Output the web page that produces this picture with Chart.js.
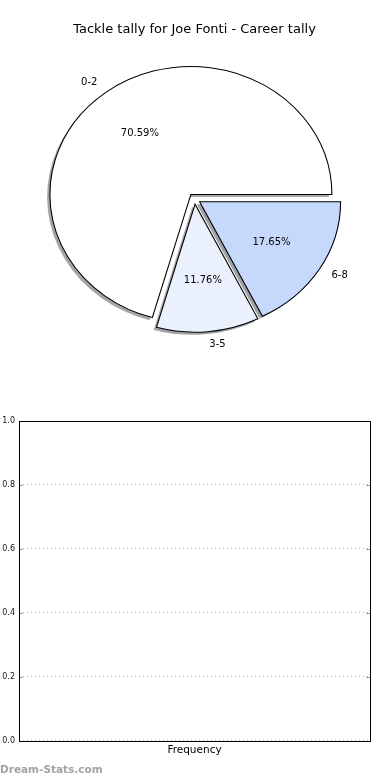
<!DOCTYPE html>
<html>
<head>
<meta charset="utf-8">
<script src="https://cdn.jsdelivr.net/npm/chart.js@4/dist/chart.umd.min.js"></script>
<style>
 html,body{margin:0;padding:0;background:#fff;}
 .box{position:relative;width:390px;}
 canvas{display:block;}
</style>
</head>
<body>
<div class="box" style="height:400px"><canvas id="pie"></canvas></div>
<div class="box" style="height:380px"><canvas id="bar"></canvas></div>
<script>
/* ===== data ===== */
const titleText = "Tackle tally for Joe Fonti - Career tally";
// drawn clockwise from 3 o'clock, so the order is reversed vs. the legend
const sliceLabels = ["6-8","3-5","0-2"];
const sliceCounts = [3, 2, 12];
const slicePct = ["17.65%","11.76%","70.59%"];
const sliceColors = ["#c6d9fd","#eaf1fd","#ffffff"];

const barCategories = ["Frequency"];
const barValues = [];
const yTicks = [0, 0.2, 0.4, 0.6, 0.8, 1.0];

const FONT = "'DejaVu Sans', sans-serif";
const EXPLODE = 6;        // px along the slice mid angle
const SQUASH = 128/141;   // pie is a bit flatter than round
const SHADOW = {x:-2.8, y:2.6};

/* ===== pie ===== */
function shade(hex){
 const n=parseInt(hex.slice(1),16);
 const r=(n>>16)&255, g=(n>>8)&255, b=n&255;
 return `rgba(${Math.round(r*0.3)},${Math.round(g*0.3)},${Math.round(b*0.3)},0.5)`;
}

function sliceTransform(ctx, arc, dx, dy){
 const mid=(arc.startAngle+arc.endAngle)/2;
 ctx.translate(arc.x+dx, arc.y+dy);
 ctx.scale(1, SQUASH);
 ctx.translate(-arc.x+Math.cos(mid)*EXPLODE, -arc.y+Math.sin(mid)*EXPLODE);
}

const piePlugin = {
 id:"piePlugin",
 beforeDatasetsDraw(chart){
  const ctx=chart.ctx;
  const arcs=chart.getDatasetMeta(0).data;
  // shadows first, under every slice
  arcs.forEach((arc,i)=>{
   ctx.save();
   sliceTransform(ctx, arc, SHADOW.x, SHADOW.y);
   ctx.beginPath();
   ctx.moveTo(arc.x, arc.y);
   ctx.arc(arc.x, arc.y, arc.outerRadius, arc.startAngle, arc.endAngle);
   ctx.closePath();
   ctx.fillStyle=shade(sliceColors[i]);
   ctx.fill();
   ctx.restore();
  });
  arcs.forEach(arc=>{
   ctx.save();
   sliceTransform(ctx, arc, 0, 0);
   arc.draw(ctx);
   ctx.restore();
  });
  return false;
 },
 afterDraw(chart){
  const ctx=chart.ctx;
  const arcs=chart.getDatasetMeta(0).data;
  ctx.save();
  ctx.font="10px "+FONT;
  ctx.fillStyle="#000";
  ctx.textBaseline="middle";
  arcs.forEach((arc,i)=>{
   const mid=(arc.startAngle+arc.endAngle)/2;
   const c=Math.cos(mid), s=Math.sin(mid);
   const r=arc.outerRadius;
   // label outside
   const lx=arc.x+c*(EXPLODE+1.1*r);
   const ly=arc.y+s*(EXPLODE+1.1*r)*SQUASH;
   ctx.textAlign=c>0?"left":"right";
   ctx.fillText(sliceLabels[i], lx, ly);
   // percent inside
   const px=arc.x+c*(EXPLODE+0.6*r);
   const py=arc.y+s*(EXPLODE+0.6*r)*SQUASH;
   ctx.textAlign="center";
   ctx.fillText(slicePct[i], px, py);
  });
  ctx.restore();
 }
};

new Chart(document.getElementById("pie"),{
 type:"pie",
 data:{
  labels:sliceLabels,
  datasets:[{
   data:sliceCounts,
   backgroundColor:sliceColors,
   borderColor:"#000",
   borderWidth:1.1,
   borderJoinStyle:"miter",
   radius:141
  }]
 },
 options:{
  responsive:true,
  maintainAspectRatio:false,
  animation:false,
  rotation:90,
  layout:{padding:{left:0,right:1,top:0,bottom:40}},
  plugins:{
   legend:{display:false},
   tooltip:{enabled:false},
   title:{
    display:true,
    text:titleText,
    color:"#000",
    font:{family:FONT,size:13,weight:"normal"},
    padding:{top:22,bottom:0}
   }
  }
 },
 plugins:[piePlugin]
});

/* ===== bar (empty) ===== */
const framePlugin = {
 id:"framePlugin",
 afterDraw(chart){
  const ctx=chart.ctx, a=chart.chartArea, y=chart.scales.y;
  ctx.save();
  // inward ticks on both sides
  ctx.strokeStyle="#999";
  ctx.lineWidth=1;
  yTicks.forEach(v=>{
   const p=Math.round(y.getPixelForValue(v))+0.5;
   ctx.beginPath();
   ctx.moveTo(a.left,p); ctx.lineTo(a.left+4,p);
   ctx.moveTo(a.right,p); ctx.lineTo(a.right-4,p);
   ctx.stroke();
  });
  ctx.strokeStyle="#000";
  ctx.strokeRect(Math.round(a.left)+0.5, Math.round(a.top)+0.5,
   Math.round(a.right-a.left), Math.round(a.bottom-a.top));
  // watermark
  ctx.font="bold 10.5px "+FONT;
  ctx.fillStyle="#a3a3a3";
  ctx.textAlign="left";
  ctx.textBaseline="middle";
  ctx.fillText("Dream-Stats.com", 0, chart.height-10);
  ctx.restore();
 }
};

new Chart(document.getElementById("bar"),{
 type:"bar",
 data:{
  labels:barCategories,
  datasets:[{data:barValues, backgroundColor:"#c6d9fd"}]
 },
 options:{
  responsive:true,
  maintainAspectRatio:false,
  animation:false,
  layout:{padding:{left:0,right:20,top:21,bottom:0}},
  plugins:{legend:{display:false},tooltip:{enabled:false}},
  scales:{
   x:{
    grid:{display:false,drawTicks:false,tickLength:0},
    border:{display:false},
    ticks:{color:"#000",font:{family:FONT,size:10.5},padding:3},
    afterFit(s){s.height=39.5;}
   },
   y:{
    min:0,max:1,
    afterBuildTicks(s){s.ticks=yTicks.map(v=>({value:v}));},
    ticks:{
     color:"#111",
     font:{family:FONT,size:8},
     padding:4,
     callback:v=>Number(v).toFixed(1)
    },
    grid:{color:"#b0b0b0",drawTicks:false,tickBorderDash:[1,3]},
    border:{display:false,dash:[1,3]},
    afterFit(s){s.width=19;}
   }
  }
 },
 plugins:[framePlugin]
});
</script>
</body>
</html>
